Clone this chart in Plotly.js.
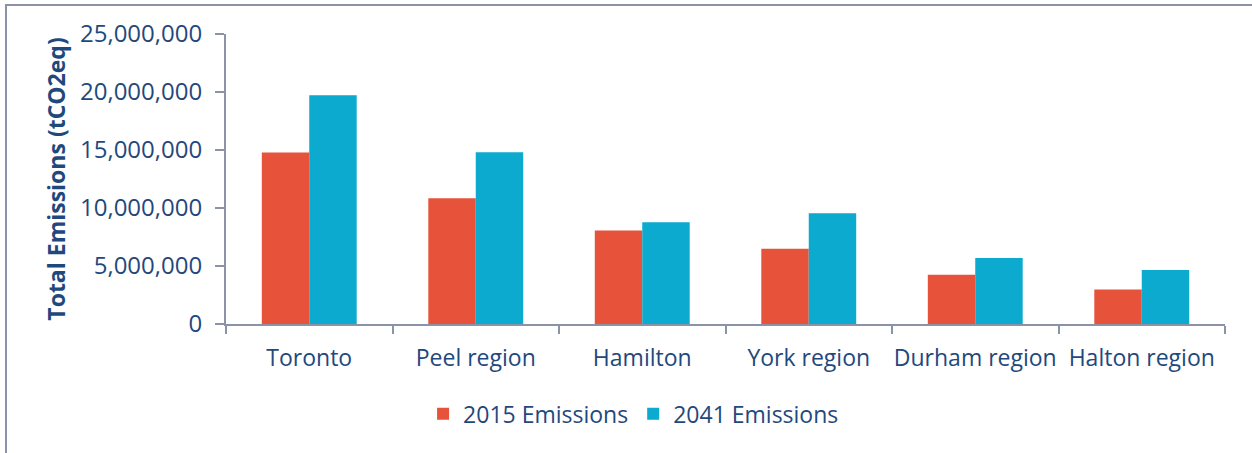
<!DOCTYPE html>
<html>
<head>
<meta charset="utf-8">
<script src="https://cdn.plot.ly/plotly-3.0.1.min.js"></script>
<style>
  html, body { margin: 0; padding: 0; background: #ffffff; }
  #wrap { position: relative; width: 1252px; height: 453px; overflow: hidden; }
  #chart { position: absolute; left: 0; top: 0; width: 1252px; height: 453px; }
  #frame {
    position: absolute; left: 5px; top: 4px; width: 1260px; height: 460px;
    border-top: 2px solid #8C93A8; border-left: 2px solid #8C93A8;
    pointer-events: none;
  }
</style>
</head>
<body>
<div id="wrap">
  <div id="chart"></div>
  <div id="frame"></div>
</div>
<script>
// Regions of the Greater Golden Horseshoe area
const regions = ["Toronto", "Peel region", "Hamilton", "York region", "Durham region", "Halton region"];

// Total emissions, tCO2eq
const emissions2015 = [14780000, 10850000, 8060000, 6480000, 4250000, 2980000];
const emissions2041 = [19720000, 14800000, 8780000, 9550000, 5690000, 4660000];

const seriesNames = ["2015 Emissions", "2041 Emissions"];
const yTicks = [0, 5000000, 10000000, 15000000, 20000000, 25000000];

const textColor = "#1F497D";
const axisColor = "#8C93A8";
const fontFamily = "'Open Sans', Lato, sans-serif";

const traces = [
  {
    type: "bar",
    name: seriesNames[0],
    x: regions,
    y: emissions2015,
    marker: { color: "#E6533A", line: { width: 0 } },
    hoverinfo: "x+y+name"
  },
  {
    type: "bar",
    name: seriesNames[1],
    x: regions,
    y: emissions2041,
    marker: { color: "#0BAACE", line: { width: 0 } },
    hoverinfo: "x+y+name"
  }
];

const layout = {
  width: 1252,
  height: 453,
  margin: { l: 226, r: 27, t: 34, b: 129 },
  paper_bgcolor: "#ffffff",
  plot_bgcolor: "#ffffff",
  font: { family: fontFamily, color: textColor, size: 23 },
  barmode: "group",
  bargap: 0.43,
  bargroupgap: 0,
  showlegend: true,
  legend: {
    orientation: "h",
    x: 0.408,
    xanchor: "center",
    y: -0.31,
    yanchor: "middle",
    font: { family: fontFamily, size: 23, color: textColor },
    itemclick: false,
    tracegroupgap: 0
  },
  xaxis: {
    type: "category",
    showline: true,
    linecolor: axisColor,
    linewidth: 2,
    ticks: "outside",
    tickson: "boundaries",
    ticklen: 8,
    tickwidth: 2,
    tickcolor: axisColor,
    showgrid: false,
    zeroline: false,
    tickangle: 0,
    ticklabelstandoff: 12,
    tickfont: { family: fontFamily, size: 23, color: textColor },
    fixedrange: true
  },
  yaxis: {
    range: [0, 25000000],
    tickvals: yTicks,
    tickformat: ",d",
    showline: true,
    linecolor: axisColor,
    linewidth: 2,
    ticks: "outside",
    ticklen: 9,
    tickwidth: 2,
    tickcolor: axisColor,
    showgrid: false,
    zeroline: false,
    ticklabelstandoff: 8,
    tickfont: { family: fontFamily, size: 24, color: textColor },
    title: {
      text: "<b>Total Emissions (tCO2eq)</b>",
      font: { family: fontFamily, size: 23, color: textColor },
      standoff: 8
    },
    fixedrange: true
  }
};

Plotly.newPlot("chart", traces, layout, { displayModeBar: false, staticPlot: true });
</script>
</body>
</html>
